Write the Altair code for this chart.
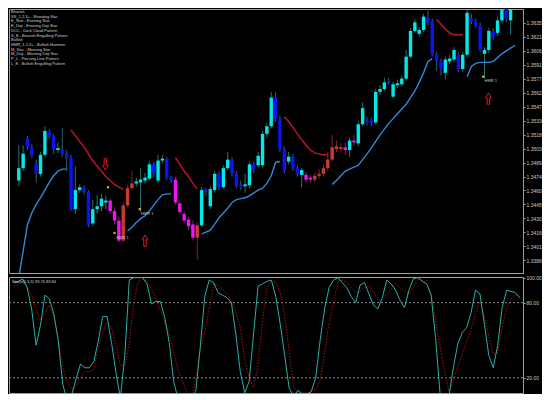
import altair as alt
import pandas as pd

# ---------------- data ----------------
kinds = list("CCBBBCCBBC" "BBBCCBBCCC" "CMMMRRRCCC" "CBCCBBMMMM" "MRCBCCBCCB"
             "BBCCBCCCCB" "BBCBBCMMRR" "RRRRRMCMCC" "BBCCCBCCCC" "CCCCBBBBCC"
             "CBCCBBBCCB" "CCBC")

opens = [1.3470, 1.3483, 1.3514, 1.3505, 1.3488, 1.3477, 1.3497, 1.3521, 1.3517, 1.3502,
         1.3503, 1.3499, 1.3494, 1.3440, 1.3460, 1.3463, 1.3458, 1.3425, 1.3440, 1.3443,
         1.3447, 1.3449, 1.3438, 1.3428, 1.3407, 1.3444, 1.3462, 1.3467, 1.3468, 1.3470,
         1.3472, 1.3487, 1.3470, 1.3491, 1.3493, 1.3473, 1.3471, 1.3446, 1.3435, 1.3429,
         1.3424, 1.3410, 1.3423, 1.3460, 1.3443, 1.3460, 1.3477, 1.3463, 1.3483, 1.3492,
         1.3477, 1.3465, 1.3464, 1.3465, 1.3487, 1.3486, 1.3486, 1.3519, 1.3527, 1.3557,
         1.3535, 1.3503, 1.3490, 1.3495, 1.3483, 1.3476, 1.3476, 1.3473, 1.3471, 1.3475,
         1.3477, 1.3483, 1.3492, 1.3503, 1.3503, 1.3505, 1.3502, 1.3512, 1.3509, 1.3529,
         1.3533, 1.3533, 1.3531, 1.3563, 1.3566, 1.3574, 1.3558, 1.3570, 1.3571, 1.3577,
         1.3600, 1.3627, 1.3624, 1.3628, 1.3641, 1.3637, 1.3602, 1.3595, 1.3583, 1.3595,
         1.3597, 1.3602, 1.3587, 1.3602, 1.3640, 1.3637, 1.3633, 1.3603, 1.3607, 1.3626,
         1.3625, 1.3638, 1.3653, 1.3638]
highs = [1.3507, 1.3507, 1.3517, 1.3508, 1.3492, 1.3500, 1.3527, 1.3524, 1.3519, 1.3510,
         1.3525, 1.3502, 1.3497, 1.3485, 1.3466, 1.3465, 1.3460, 1.3450, 1.3455, 1.3456,
         1.3454, 1.3451, 1.3442, 1.3432, 1.3447, 1.3465, 1.3480, 1.3473, 1.3483, 1.3478,
         1.3490, 1.3490, 1.3497, 1.3497, 1.3495, 1.3475, 1.3474, 1.3449, 1.3438, 1.3432,
         1.3428, 1.3426, 1.3463, 1.3462, 1.3464, 1.3480, 1.3480, 1.3486, 1.3500, 1.3495,
         1.3480, 1.3470, 1.3477, 1.3490, 1.3490, 1.3500, 1.3522, 1.3530, 1.3563, 1.3563,
         1.3538, 1.3506, 1.3500, 1.3498, 1.3486, 1.3483, 1.3479, 1.3476, 1.3478, 1.3482,
         1.3487, 1.3500, 1.3518, 1.3512, 1.3509, 1.3510, 1.3515, 1.3518, 1.3532, 1.3552,
         1.3537, 1.3536, 1.3566, 1.3570, 1.3578, 1.3578, 1.3574, 1.3576, 1.3580, 1.3607,
         1.3630, 1.3639, 1.3631, 1.3645, 1.3650, 1.3640, 1.3605, 1.3598, 1.3600, 1.3602,
         1.3610, 1.3605, 1.3605, 1.3649, 1.3645, 1.3640, 1.3636, 1.3610, 1.3630, 1.3630,
         1.3642, 1.3655, 1.3655, 1.3655]
lows = [1.3464, 1.3480, 1.3502, 1.3494, 1.3468, 1.3474, 1.3495, 1.3514, 1.3498, 1.3499,
        1.3495, 1.3480, 1.3438, 1.3435, 1.3457, 1.3455, 1.3421, 1.3422, 1.3435, 1.3438,
        1.3440, 1.3435, 1.3424, 1.3405, 1.3406, 1.3442, 1.3460, 1.3464, 1.3437, 1.3467,
        1.3470, 1.3474, 1.3467, 1.3488, 1.3470, 1.3467, 1.3445, 1.3434, 1.3425, 1.3418,
        1.3407, 1.3387, 1.3421, 1.3454, 1.3440, 1.3457, 1.3460, 1.3461, 1.3481, 1.3474,
        1.3462, 1.3460, 1.3457, 1.3462, 1.3478, 1.3484, 1.3484, 1.3516, 1.3525, 1.3532,
        1.3500, 1.3477, 1.3487, 1.3480, 1.3474, 1.3463, 1.3468, 1.3468, 1.3468, 1.3472,
        1.3474, 1.3480, 1.3490, 1.3500, 1.3499, 1.3497, 1.3495, 1.3507, 1.3506, 1.3527,
        1.3528, 1.3527, 1.3529, 1.3560, 1.3564, 1.3570, 1.3556, 1.3567, 1.3569, 1.3575,
        1.3598, 1.3625, 1.3621, 1.3626, 1.3633, 1.3600, 1.3585, 1.3580, 1.3576, 1.3592,
        1.3594, 1.3584, 1.3584, 1.3600, 1.3634, 1.3630, 1.3605, 1.3577, 1.3604, 1.3618,
        1.3622, 1.3635, 1.3636, 1.3623]
closes = [1.3483, 1.3498, 1.3505, 1.3497, 1.3477, 1.3497, 1.3522, 1.3517, 1.3503, 1.3504,
          1.3498, 1.3494, 1.3440, 1.3460, 1.3463, 1.3458, 1.3423, 1.3440, 1.3443, 1.3451,
          1.3449, 1.3438, 1.3428, 1.3407, 1.3444, 1.3462, 1.3467, 1.3469, 1.3471, 1.3473,
          1.3487, 1.3477, 1.3491, 1.3493, 1.3473, 1.3470, 1.3447, 1.3437, 1.3428, 1.3422,
          1.3410, 1.3423, 1.3460, 1.3458, 1.3461, 1.3477, 1.3463, 1.3483, 1.3492, 1.3477,
          1.3464, 1.3463, 1.3466, 1.3487, 1.3482, 1.3496, 1.3519, 1.3527, 1.3557, 1.3535,
          1.3503, 1.3480, 1.3495, 1.3483, 1.3477, 1.3481, 1.3471, 1.3471, 1.3475, 1.3477,
          1.3483, 1.3492, 1.3505, 1.3506, 1.3505, 1.3502, 1.3512, 1.3510, 1.3529, 1.3546,
          1.3531, 1.3530, 1.3563, 1.3566, 1.3573, 1.3572, 1.3571, 1.3572, 1.3577, 1.3600,
          1.3627, 1.3636, 1.3628, 1.3642, 1.3636, 1.3602, 1.3595, 1.3587, 1.3597, 1.3598,
          1.3607, 1.3587, 1.3602, 1.3646, 1.3637, 1.3633, 1.3607, 1.3607, 1.3627, 1.3621,
          1.3638, 1.3653, 1.3640, 1.3652]

# trailing stop segments: (first bar index, values)
up_segments = [
    (0, [1.3368, 1.3396, 1.3424, 1.3436, 1.3445, 1.3452, 1.3460, 1.3468, 1.3475, 1.3480, 1.3482, 1.3482]),
    (25, [1.3417, 1.3421, 1.3426, 1.3430, 1.3433, 1.3438, 1.3444, 1.3450, 1.3455, 1.3456, 1.3456]),
    (42, [1.3414, 1.3416, 1.3418, 1.3424, 1.3431, 1.3436, 1.3441, 1.3447, 1.3450, 1.3451, 1.3452,
          1.3454, 1.3457, 1.3460, 1.3462, 1.3467, 1.3475, 1.3489, 1.3490]),
    (72, [1.3466, 1.3470, 1.3475, 1.3480, 1.3482, 1.3484, 1.3486, 1.3492, 1.3498, 1.3504, 1.3511,
          1.3518, 1.3524, 1.3530, 1.3535, 1.3540, 1.3545, 1.3550, 1.3557, 1.3564, 1.3573, 1.3583,
          1.3595, 1.3598]),
    (103, [1.3579, 1.3590, 1.3593, 1.3594, 1.3594, 1.3594, 1.3595, 1.3599, 1.3603, 1.3606, 1.3609, 1.3612]),
]
down_segments = [
    (12, [1.3523, 1.3517, 1.3511, 1.3505, 1.3498, 1.3491, 1.3485, 1.3480, 1.3474, 1.3470, 1.3466, 1.3463, 1.3461]),
    (36, [1.3494, 1.3487, 1.3480, 1.3474, 1.3467, 1.3461]),
    (61, [1.3537, 1.3532, 1.3526, 1.3519, 1.3513, 1.3507, 1.3502, 1.3499, 1.3498, 1.3497, 1.3497]),
    (96, [1.3639, 1.3634, 1.3629, 1.3625, 1.3623, 1.3623, 1.3623]),
]

stoch_main = [96, 97, 99, 92, 75, 46, 62, 86, 83, 71,
              50, 15, 2, 6, 19, 31, 28, 28, 33, 49,
              69, 69, 48, 24, 4, 38, 98, 100, 100, 100,
              95, 79, 81, 81, 68, 48, 17, 3, 2, 2,
              3, 10, 45, 85, 98, 96, 88, 86, 84, 80,
              55, 25, 8, 17, 55, 93, 95, 97, 98, 85,
              63, 38, 12, 5, 10, 7, 7, 9, 20, 50,
              75, 92, 98, 100, 96, 92, 85, 80, 94, 96,
              87, 78, 75, 84, 98, 95, 90, 82, 76, 90,
              99, 100, 97, 95, 86, 52, 8, 2, 5, 28,
              47, 56, 60, 72, 90, 87, 63, 38, 28, 46,
              76, 90, 89, 88, 84]
stoch_signal = [93, 95, 97, 93, 86, 75, 66, 71, 78, 69,
                49, 29, 16, 11, 13, 20, 25, 25, 27, 44,
                57, 64, 60, 45, 30, 30, 48, 80, 97, 99,
                97, 91, 83, 74, 64, 55, 41, 26, 17, 9,
                4, 20, 43, 57, 75, 95, 94, 91, 87, 82,
                73, 60, 35, 20, 12, 30, 65, 92, 97, 97,
                88, 70, 42, 13, 9, 8, 8, 9, 10, 18,
                40, 64, 80, 97, 98, 96, 92, 88, 89, 92,
                93, 89, 83, 82, 87, 91, 95, 92, 89, 87,
                92, 99, 98, 95, 88, 66, 45, 26, 9, 17,
                29, 39, 49, 59, 72, 81, 69, 53, 39, 40,
                60, 76, 83, 86, 84]

price_ticks = [1.36354, 1.36207, 1.36061, 1.35914, 1.35768, 1.35621, 1.35475, 1.35328, 1.35182,
               1.35035, 1.34889, 1.34742, 1.34596, 1.34449, 1.34303, 1.34156, 1.34010, 1.33863]
osc_ticks = [100, 80, 20]
osc_levels = [80, 20]

arrow_down = {"i": [19.9], "p": [1.3487]}
arrow_up = {"i": [29.0, 107.9], "p": [1.3407, 1.3556]}
pat_text = {"i": [22.4, 28.1, 107.0], "p": [1.3410, 1.3435, 1.3574], "t": ["HMR 1", "HMR 1", "HMR 1"]}
pat_mark = {"i": [22.0, 27.8, 106.7, 20.5], "p": [1.3415, 1.3440, 1.3579, 1.3463]}

legend_lines = ["Bearish",
                "SS_1,2,3+  - Shooting Star",
                "E_Star   - Evening Star",
                "E_Doji   - Evening Doji Star",
                "DCC      - Dark Cloud Pattern",
                "S_E      - Bearish Engulfing Pattern",
                " ",
                "Bullish",
                "HMR_1,2,3+ - Bullish Hammer",
                "M_Star   - Morning Star",
                "M_Doji   - Morning Doji Star",
                "P_L      - Piercing Line Pattern",
                "L_E      - Bullish Engulfing Pattern"]
stoch_label = "Stoch(5,3,3) 83.76 83.84"

# ---------------- tables ----------------
n = len(kinds)
candles = pd.DataFrame({"i": list(range(n)), "kind": kinds, "wkind": kinds,
                        "open": opens, "high": highs, "low": lows, "close": closes})

rows = []
for k, (s, vals) in enumerate(up_segments):
    for j, v in enumerate(vals):
        rows.append({"i": s + j, "p": v, "seg": f"u{k}"})
up_df = pd.DataFrame(rows)
rows = []
for k, (s, vals) in enumerate(down_segments):
    for j, v in enumerate(vals):
        rows.append({"i": s + j, "p": v, "seg": f"d{k}"})
dn_df = pd.DataFrame(rows)

osc_df = pd.DataFrame({"i": list(range(len(stoch_main))), "main": stoch_main, "sig": stoch_signal})
lvl_df = pd.DataFrame({"v": osc_levels})

W, H1, H2 = 514, 264, 116
FONT = "Liberation Sans"

xs = alt.Scale(domain=[-1.1, 114.7], nice=False, zero=False)
ys = alt.Scale(domain=[1.3373, 1.3650], nice=False, zero=False)
os_ = alt.Scale(domain=[7.85, 100.5], nice=False, zero=False)

yaxis = alt.Axis(orient="right", values=price_ticks, format=".4f", title=None, grid=False,
                 labelFontSize=5, labelFont=FONT, labelColor="#c8c8c8", tickSize=2,
                 tickColor="#9a9a9a", domainColor="#9a9a9a", labelPadding=1)
oaxis = alt.Axis(orient="right", values=osc_ticks, format=".2f", title=None, grid=False,
                 labelFontSize=5, labelFont=FONT, labelColor="#c8c8c8", tickSize=2,
                 tickColor="#9a9a9a", domainColor="#9a9a9a", labelPadding=1)

X = alt.X("i:Q", scale=xs, axis=None)

wicks = alt.Chart(candles).mark_rule(strokeWidth=1, clip=True).encode(
    x=X,
    y=alt.Y("low:Q", scale=ys, axis=yaxis),
    y2="high:Q",
    color=alt.Color("wkind:N", legend=None,
                    scale=alt.Scale(domain=["C", "B", "M", "R"],
                                    range=["#2a7070", "#2a6070", "#7a2070", "#7a2a22"])),
)
bodies = alt.Chart(candles).mark_bar(size=3.4, clip=True).encode(
    x=X,
    y=alt.Y("open:Q", scale=ys, axis=yaxis),
    y2="close:Q",
    fill=alt.Fill("kind:N", legend=None,
                  scale=alt.Scale(domain=["C", "B", "M", "R"],
                                  range=["#00eaea", "#0a14f2", "#f014f0", "#c43c2c"])),
)
up_line = alt.Chart(up_df).mark_line(strokeWidth=1.4, color="#2f8ad6", clip=True).encode(
    x=X, y=alt.Y("p:Q", scale=ys, axis=yaxis), detail="seg:N")
dn_line = alt.Chart(dn_df).mark_line(strokeWidth=1.4, color="#c0142e", clip=True).encode(
    x=X, y=alt.Y("p:Q", scale=ys, axis=yaxis), detail="seg:N")

down_path = "M -0.22 -1 L 0.22 -1 L 0.22 0.15 L 0.5 0.15 L 0 1 L -0.5 0.15 L -0.22 0.15 Z"
up_path = "M -0.22 1 L 0.22 1 L 0.22 -0.15 L 0.5 -0.15 L 0 -1 L -0.5 -0.15 L -0.22 -0.15 Z"
arr_dn = alt.Chart(pd.DataFrame(arrow_down)).mark_point(
    shape=down_path, size=130, filled=False, color="#e01818", strokeWidth=1, opacity=1).encode(
    x=X, y=alt.Y("p:Q", scale=ys, axis=yaxis))
arr_up = alt.Chart(pd.DataFrame(arrow_up)).mark_point(
    shape=up_path, size=130, filled=False, color="#e01818", strokeWidth=1, opacity=1).encode(
    x=X, y=alt.Y("p:Q", scale=ys, axis=yaxis))
pmark = alt.Chart(pd.DataFrame(pat_mark)).mark_point(
    shape="square", size=5, filled=True, color="#d8b400", opacity=1).encode(
    x=X, y=alt.Y("p:Q", scale=ys, axis=yaxis))
ptext = alt.Chart(pd.DataFrame(pat_text)).mark_text(
    font=FONT, fontSize=4, color="#c8c8c8", align="left", baseline="middle").encode(
    x=X, y=alt.Y("p:Q", scale=ys, axis=yaxis), text="t:N")

legend = alt.Chart(pd.DataFrame({"t": ["\n".join(legend_lines)]})).mark_text(
    font=FONT, fontSize=4, color="#d0d0d0", align="left", baseline="top",
    lineBreak="\n", lineHeight=4.7, clip=True).encode(
    x=alt.value(2), y=alt.value(1), text="t:N")

price = alt.layer(wicks, bodies, dn_line, up_line, arr_dn, arr_up, pmark, ptext, legend).properties(
    width=W, height=H1)

OY = alt.Y("v:Q", scale=os_, axis=oaxis)
levels = alt.Chart(lvl_df).mark_rule(color="#8a8a8a", strokeDash=[2, 2], strokeWidth=1).encode(y=OY)
main_line = alt.Chart(osc_df).mark_line(color="#2aaea8", strokeWidth=1, clip=True).encode(
    x=X, y=alt.Y("main:Q", scale=os_, axis=oaxis))
sig_line = alt.Chart(osc_df).mark_line(color="#b01010", strokeWidth=1, strokeDash=[1.5, 1.5], clip=True).encode(
    x=X, y=alt.Y("sig:Q", scale=os_, axis=oaxis))
olabel = alt.Chart(pd.DataFrame({"t": [stoch_label]})).mark_text(
    font=FONT, fontSize=4, color="#d0d0d0", align="left", baseline="middle").encode(
    x=alt.value(3), y=alt.value(5), text="t:N")

osc = alt.layer(levels, sig_line, main_line, olabel).properties(width=W, height=H2)

chart = alt.vconcat(price, osc, spacing=1, padding=0, background="#000000").configure_view(
    stroke="#a0a0a0", strokeWidth=1, fill="#000000")

chart.save("out.html", embed_options={"renderer": "svg", "actions": False})
